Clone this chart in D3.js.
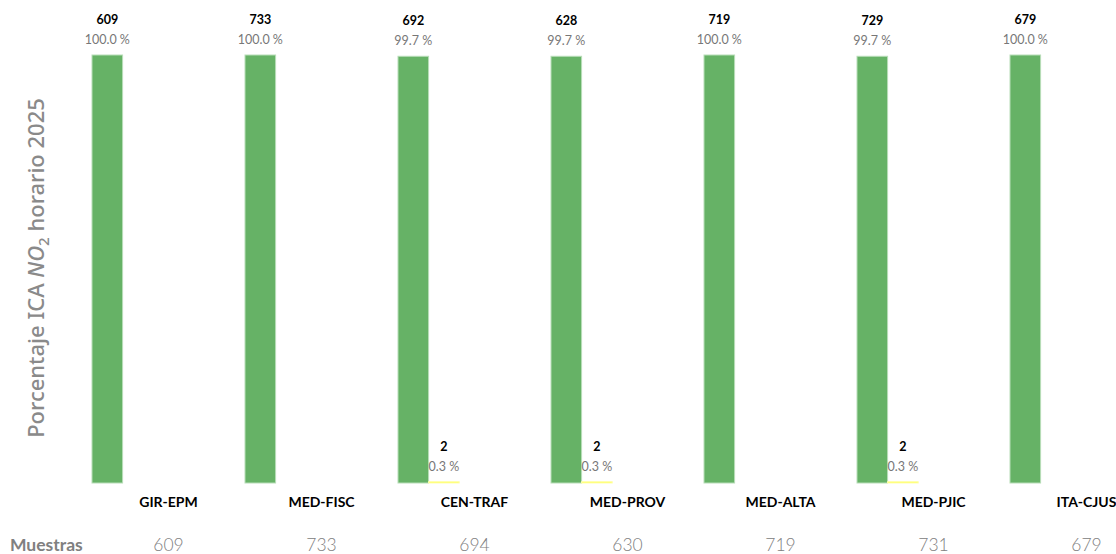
<!DOCTYPE html>
<html><head><meta charset="utf-8">
<script src="https://cdn.jsdelivr.net/npm/d3@7"></script>
<style>body{margin:0;background:#fff;}svg{display:block;font-family:Lato,"Noto Sans",sans-serif;}</style>
</head><body><svg id="c" width="1116" height="554"></svg>
<script>
const stations = ["GIR-EPM","MED-FISC","CEN-TRAF","MED-PROV","MED-ALTA","MED-PJIC","ITA-CJUS"];
const categories = ["Buena","Aceptable","Dañina grupos sensibles","Dañina","Muy dañina"];
const colors = ["#66b266","#ffff00","#ff7e00","#ff0000","#8f3f97"];
const countBuena = [609,733,692,628,719,729,679];
const countAceptable = [0,0,2,2,0,2,0];
const countDGS = [0,0,0,0,0,0,0];
const countDanina = [0,0,0,0,0,0,0];
const countMuyDanina = [0,0,0,0,0,0,0];
const pctBuena = [100.0,100.0,99.7,99.7,100.0,99.7,100.0];
const pctAceptable = [0,0,0.3,0.3,0,0.3,0];
const pctDGS = [0,0,0,0,0,0,0];
const pctDanina = [0,0,0,0,0,0,0];
const pctMuyDanina = [0,0,0,0,0,0,0];
const samples = [609,733,694,630,719,731,679];
const yTicks = [0,100];

const counts = [countBuena,countAceptable,countDGS,countDanina,countMuyDanina];
const pcts = [pctBuena,pctAceptable,pctDGS,pctDanina,pctMuyDanina];
const rows = [];
stations.forEach((s,i)=>categories.forEach((c,j)=>rows.push({s,c,j,n:counts[j][i],p:pcts[j][i]})));

const svg = d3.select("#c");
const x0 = d3.scaleBand().domain(stations).range([92, 92+153*stations.length]).padding(0);
const x1 = d3.scaleBand().domain(categories).range([0, x0.bandwidth()]).padding(0);
const y = d3.scaleLinear().domain([yTicks[0], yTicks[1]]).range([483, 55]);

const g = svg.append("g");
const bars = rows.filter(d=>d.p>0);
g.selectAll("rect").data(bars).join("rect")
  .attr("x", d=>x0(d.s)+x1(d.c))
  .attr("y", d=>y(d.p))
  .attr("width", x1.bandwidth())
  .attr("height", d=>Math.max(1, y(0)-y(d.p)))
  .attr("fill", d=>colors[d.j])
  .attr("stroke", d=>d.j===0?"#b8ddb8":"#ffffb0")
  .attr("stroke-width", 1);

g.selectAll("text.cnt").data(bars).join("text").attr("class","cnt")
  .attr("x", d=>x0(d.s)+x1(d.c)+x1.bandwidth()/2)
  .attr("y", d=>y(d.p)-31)
  .attr("text-anchor","middle").attr("font-size",12.5).attr("font-weight","bold").attr("fill","#000")
  .text(d=>d.n);
g.selectAll("text.pct").data(bars).join("text").attr("class","pct")
  .attr("x", d=>x0(d.s)+x1(d.c)+x1.bandwidth()/2)
  .attr("y", d=>y(d.p)-11)
  .attr("text-anchor","middle").attr("font-size",12.5).attr("fill","#777")
  .text(d=>d.p.toFixed(1)+" %");

// category axis
const xAxis = svg.append("g").attr("transform","translate(0,483)")
  .call(d3.axisBottom(x0).tickSize(0).tickPadding(14));
xAxis.select(".domain").remove();
xAxis.selectAll("text").attr("font-size",14).attr("font-weight","bold").attr("fill","#000")
  .attr("font-family","Lato,'Noto Sans',sans-serif");

// samples row
svg.append("text").attr("x",10).attr("y",551).attr("font-size",17.5).attr("font-weight","bold").attr("fill","#808080").text("Muestras");
svg.selectAll("text.smp").data(stations).join("text").attr("class","smp")
  .attr("x", (d)=>x0(d)+x0.bandwidth()/2).attr("y",551)
  .attr("text-anchor","middle").attr("font-size",17.5).attr("font-weight",300).attr("fill","#808080")
  .text((d,i)=>samples[i]);

// y title
const t = svg.append("text").attr("transform","translate(44,268) rotate(-90)")
  .attr("text-anchor","middle").attr("font-family","'Noto Sans',sans-serif")
  .attr("font-size",22).attr("font-weight",500).attr("fill","#8a8a8a");
t.append("tspan").text("Porcentaje ICA ");
t.append("tspan").attr("font-style","italic").text("NO");
t.append("tspan").attr("font-size",15).attr("dy",5).text("2");
t.append("tspan").attr("dy",-5).text(" horario 2025");
</script></body></html>
